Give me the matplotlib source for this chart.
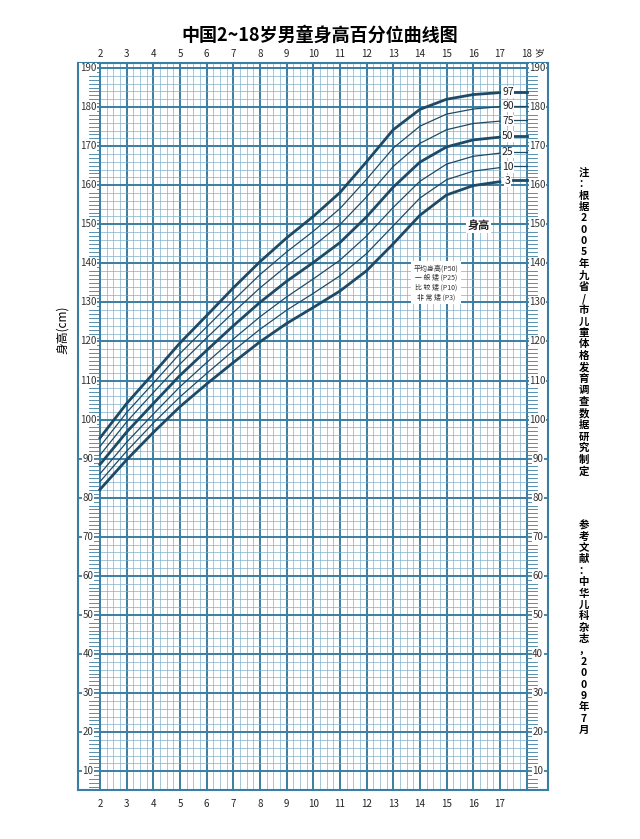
import matplotlib
matplotlib.use("Agg")
import matplotlib.pyplot as plt
import numpy as np

plt.rcParams['font.family'] = ['Noto Sans CJK SC', 'DejaVu Sans']

ages = [2,3,4,5,6,7,8,9,10,11,12,13,14,15,16,17]
p3  = [82.1,89.7,96.7,103.3,109.1,114.6,119.9,124.6,128.7,132.9,138.1,145.0,152.3,157.5,159.9,160.9]
p10 = [84.1,91.9,99.1,105.8,111.8,117.6,123.1,128.0,132.3,136.8,142.5,149.6,156.7,161.4,163.6,164.5]
p25 = [86.1,94.2,101.4,108.4,114.6,120.6,126.3,131.4,136.0,140.8,147.0,154.3,161.0,165.4,167.4,168.2]
p50 = [88.5,96.8,104.1,111.3,117.7,124.0,130.0,135.4,140.2,145.3,151.9,159.5,165.9,169.8,171.6,172.3]
p75 = [90.9,99.4,106.9,114.2,120.9,127.4,133.7,139.3,144.4,149.9,157.0,164.8,170.7,174.2,175.8,176.4]
p90 = [93.1,101.8,109.3,116.9,123.7,130.5,137.1,142.9,148.2,154.0,161.5,169.5,175.1,178.2,179.5,180.1]
p97 = [95.3,104.1,111.8,119.6,126.6,133.7,140.4,146.5,152.0,158.1,166.0,174.2,179.4,182.0,183.2,183.7]
end18 = {'3':161.3,'10':164.9,'25':168.6,'50':172.7,'75':176.7,'90':180.4,'97':183.9}
series = {'3':p3,'10':p10,'25':p25,'50':p50,'75':p75,'90':p90,'97':p97}
thick = {'3','50','97'}

grid_c = '#3a7ea3'
minor_c = '#7fb0cb'
line_c = '#1d4a66'

fig = plt.figure(figsize=(6.4,8.39), dpi=100)
ax = fig.add_axes([0.122,0.058,0.734,0.867])
ax.set_xlim(1.18,18.8); ax.set_ylim(5.1,191.3)
ax.set_xticks([]); ax.set_yticks([])
for s in ax.spines.values():
    s.set_color(grid_c); s.set_linewidth(1.5)

for x in np.arange(2,18.01,0.25):
    major = abs(x-round(x))<1e-6
    ax.plot([x,x],[5.1,191.3],color=grid_c if major else minor_c,lw=1.4 if major else 0.5,zorder=1)
for y in np.arange(10,190.1,2):
    major = y%10==0
    ax.plot([2,18],[y,y],color=grid_c if major else minor_c,lw=1.4 if major else 0.5,zorder=1)
for y in range(6,191):
    if y%10==0:
        ax.plot([1.18,2],[y,y],color=grid_c,lw=1.3,zorder=1)
        ax.plot([18,18.8],[y,y],color=grid_c,lw=1.3,zorder=1)
    else:
        ax.plot([1.6,2],[y,y],color=grid_c,lw=0.6,zorder=1)
        ax.plot([18,18.4],[y,y],color=grid_c,lw=0.6,zorder=1)
for y in range(10,191,10):
    ax.text(1.55,y,str(y),ha='center',va='center',fontsize=7,color='#333',
            bbox=dict(fc='white',ec='none',pad=0.3),zorder=3)
    ax.text(18.42,y,str(y),ha='center',va='center',fontsize=7,color='#333',
            bbox=dict(fc='white',ec='none',pad=0.3),zorder=3)

for k,v in series.items():
    lw = 2.0 if k in thick else 0.9
    ax.plot(ages,v,color=line_c,lw=lw,zorder=4)
    ax.plot([17.5,18],[end18[k]]*2,color=line_c,lw=lw,zorder=4)
    ax.text(17.3,(v[-1]+end18[k])/2,k,ha='center',va='center',fontsize=7.5,color='#222',
            bbox=dict(fc='white',ec='none',pad=0.5),zorder=5)

ax.text(16.2,149.8,'身高',ha='center',va='center',fontsize=8,fontweight='bold',color='#222',
        bbox=dict(fc='white',ec='none',pad=1),zorder=5)
ax.text(14.6,135,'平均身高(P50)\n一 般 矮 (P25)\n比 较 矮 (P10)\n非 常 矮 (P3)',
        ha='center',va='center',fontsize=5,color='#333',linespacing=1.3,
        bbox=dict(fc='white',ec='none',pad=2),zorder=5)

for a in range(2,19):
    ax.text(a,192.3,str(a),ha='center',va='bottom',fontsize=7,color='#222',clip_on=False)
for a in range(2,18):
    ax.text(a,3,str(a),ha='center',va='top',fontsize=7,color='#222',clip_on=False)
ax.text(18.45,192.3,'岁',ha='center',va='bottom',fontsize=7,color='#222',clip_on=False)

fig.text(0.5,0.958,'中国2~18岁男童身高百分位曲线图',ha='center',va='center',fontsize=13,fontweight='bold')
fig.text(0.097,0.607,'身高(cm)',rotation=90,ha='center',va='center',fontsize=8.5)
note1 = '注：根据2005年九省/市儿童体格发育调查数据研究制定'
note2 = '参考文献：中华儿科杂志，2009年7月'
fig.text(0.912,0.616,'\n'.join(note1),ha='center',va='center',fontsize=7.5,fontweight='bold',linespacing=1.17)
fig.text(0.912,0.252,'\n'.join(note2),ha='center',va='center',fontsize=7.5,fontweight='bold',linespacing=1.17)

fig.savefig('out.png',dpi=100)
